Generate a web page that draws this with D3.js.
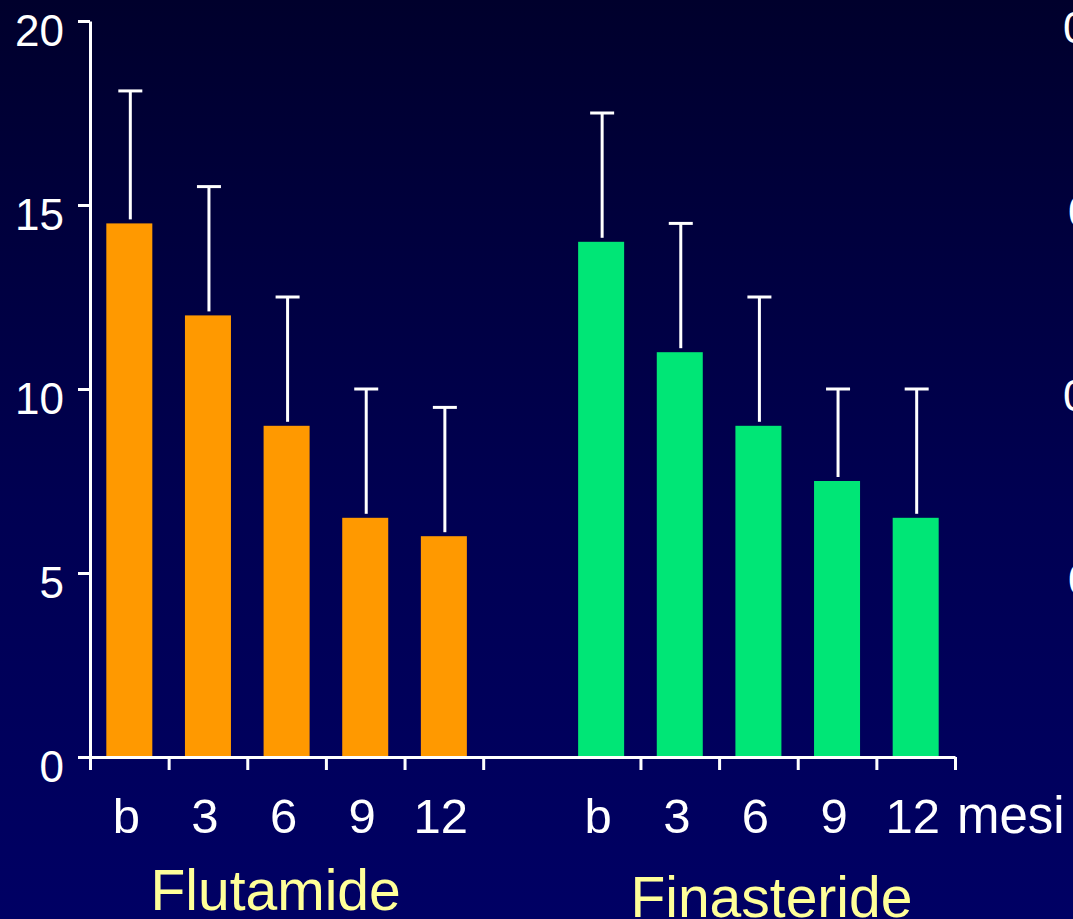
<!DOCTYPE html>
<html>
<head>
<meta charset="utf-8">
<script src="https://cdn.jsdelivr.net/npm/d3@7"></script>
<style>
  html, body { margin: 0; padding: 0; background: #000040; overflow: hidden; }
  svg { display: block; font-family: "Liberation Sans", Arial, sans-serif; }
</style>
</head>
<body>
<svg id="chart" width="1073" height="919"></svg>
<script>
// Time points (months) and treatment groups
const months = ["b", "3", "6", "9", "12"];
const groups = ["Flutamide", "Finasteride"];

// Mean values per time point
const flutamideMean = [14.5, 12, 9, 6.5, 6];
const finasterideMean = [14, 11, 9, 7.5, 6.5];

// Upper standard deviation per time point
const flutamideSD = [3.6, 3.5, 3.5, 3.5, 3.5];
const finasterideSD = [3.5, 3.5, 3.5, 2.5, 3.5];

// Axis ticks and units label
const yTicks = [0, 5, 10, 15, 20];
const unitLabel = "mesi";
// Leading glyphs of the adjacent panel's axis, cut off at the right edge
const sideTicks = [20, 15, 10, 5];
const sideText = ["0", "0", "0", "0"];
const sideShift = [0, 5, 0, 5];

const W = 1073, H = 919;
const svg = d3.select("#chart");

// Background gradient
const defs = svg.append("defs");
const grad = defs.append("linearGradient").attr("id", "bg")
  .attr("x1", 0).attr("y1", 0).attr("x2", 0).attr("y2", 1);
grad.append("stop").attr("offset", "0%").attr("stop-color", "#00002c");
grad.append("stop").attr("offset", "55%").attr("stop-color", "#000052");
grad.append("stop").attr("offset", "100%").attr("stop-color", "#000064");
svg.append("rect").attr("width", W).attr("height", H).attr("fill", "url(#bg)");

// Slots: five Flutamide time points, one empty gap, five Finasteride time points
const records = [];
months.forEach((m, i) => records.push({ group: groups[0], month: m, mean: flutamideMean[i], sd: flutamideSD[i], color: "#ff9900" }));
months.forEach((m, i) => records.push({ group: groups[1], month: m, mean: finasterideMean[i], sd: finasterideSD[i], color: "#00e676" }));
const slotKeys = [
  ...months.map(m => groups[0] + "|" + m),
  "gap",
  ...months.map(m => groups[1] + "|" + m)
];

const x0 = 90, x1 = 955, yTop = 21, yBase = 757;
const x = d3.scaleBand().domain(slotKeys).range([x0, x1]).paddingInner(0).paddingOuter(0);
const y = d3.scaleLinear().domain([0, 20]).range([yBase, yTop]);
const slotIndex = d3.scaleLinear().domain([0, slotKeys.length]).range([x0, x1]);

const bw = x.bandwidth();
const barW = bw * 0.585;
const keyOf = d => d.group + "|" + d.month;

// Bars
svg.append("g").selectAll("rect").data(records).join("rect")
  .attr("x", d => x(keyOf(d)) + (bw - barW) / 2)
  .attr("y", d => y(d.mean))
  .attr("width", barW)
  .attr("height", d => y(0) - y(d.mean))
  .attr("fill", d => d.color);

// Error bars (upper SD only)
const err = svg.append("g").attr("stroke", "#ffffff").attr("stroke-width", 3).attr("fill", "none");
err.selectAll("line.v").data(records).join("line").attr("class", "v")
  .attr("x1", d => x(keyOf(d)) + bw / 2 + 1)
  .attr("x2", d => x(keyOf(d)) + bw / 2 + 1)
  .attr("y1", d => y(d.mean) - 4)
  .attr("y2", d => y(d.mean + d.sd));
err.selectAll("line.c").data(records).join("line").attr("class", "c")
  .attr("x1", d => x(keyOf(d)) + bw / 2 + 1 - 12)
  .attr("x2", d => x(keyOf(d)) + bw / 2 + 1 + 12)
  .attr("y1", d => y(d.mean + d.sd))
  .attr("y2", d => y(d.mean + d.sd));

// Y axis
const yAxis = svg.append("g").attr("transform", `translate(${x0},0)`)
  .call(d3.axisLeft(y).tickValues(yTicks).tickSize(12).tickSizeOuter(0).tickFormat(d3.format("d")));
yAxis.select(".domain").attr("stroke", "#fff").attr("stroke-width", 3);
yAxis.selectAll(".tick line").attr("stroke", "#fff").attr("stroke-width", 3);
yAxis.selectAll(".tick text")
  .attr("x", -26).attr("dy", "0.55em")
  .attr("fill", "#fff").attr("font-size", 44)
  .attr("font-family", "Liberation Sans, Arial, sans-serif");

// X axis: ticks at slot boundaries, none at the start of the second group
const boundaryTicks = d3.range(0, slotKeys.length + 1).filter(i => i !== slotKeys.indexOf("gap") + 1);
const xAxis = svg.append("g").attr("transform", `translate(0,${yBase})`)
  .call(d3.axisBottom(slotIndex).tickValues(boundaryTicks).tickSize(13).tickSizeOuter(0).tickFormat(""));
xAxis.select(".domain").attr("stroke", "#fff").attr("stroke-width", 3);
xAxis.selectAll(".tick line").attr("stroke", "#fff").attr("stroke-width", 3);

// Month labels under each bar
svg.append("g").selectAll("text").data(records).join("text")
  .attr("x", d => x(keyOf(d)) + bw / 2 - 3)
  .attr("y", 833)
  .attr("text-anchor", "middle")
  .attr("fill", "#fff")
  .attr("font-size", 49)
  .text(d => d.month);

// Units label after the last time point
svg.append("text")
  .attr("x", 957).attr("y", 833)
  .attr("fill", "#fff").attr("font-size", 51)
  .text(unitLabel);

// Group names
const groupCenters = groups.map(g => {
  const ks = months.map(m => g + "|" + m);
  return (x(ks[0]) + x(ks[ks.length - 1]) + bw) / 2;
});
svg.append("g").selectAll("text").data(groups).join("text")
  .attr("x", (d, i) => groupCenters[i] + (i === 0 ? -11 : 13))
  .attr("y", (d, i) => i === 0 ? 910 : 917)
  .attr("text-anchor", "middle")
  .attr("fill", "#ffff99")
  .attr("font-size", 57)
  .text(d => d);

// Adjacent panel axis glyphs at the right edge
svg.append("g").selectAll("text").data(sideTicks).join("text")
  .attr("x", (d, i) => 1063 + sideShift[i])
  .attr("y", d => y(d) + 22)
  .attr("fill", "#fff").attr("font-size", 44)
  .text((d, i) => sideText[i]);
</script>
</body>
</html>
